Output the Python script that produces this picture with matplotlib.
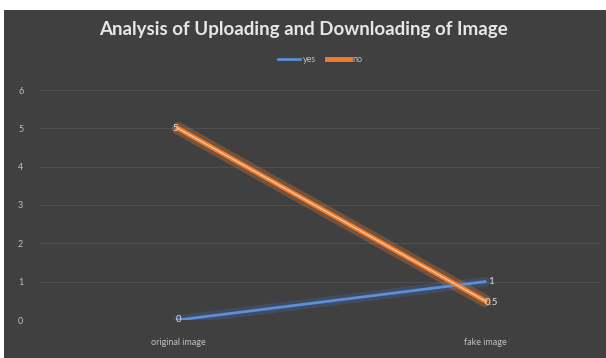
import matplotlib
matplotlib.use("Agg")
import matplotlib.pyplot as plt
from matplotlib.patches import Rectangle

categories = ["original image", "fake image"]
yes_vals = [0, 1]
no_vals = [5, 0.5]
yticks = [0, 1, 2, 3, 4, 5, 6]

plt.rcParams['font.family'] = ['Lato', 'DejaVu Sans']
fig = plt.figure(figsize=(6.06, 3.58), dpi=100)
fig.patch.set_facecolor('white')
fig.add_artist(Rectangle((4/606, 0), 1, 1 - 10/358, transform=fig.transFigure,
                         facecolor='#404040', edgecolor='none', zorder=0))

ax = fig.add_axes([40/606, 1 - 320/358, 560/606, (320 - 90)/358])
ax.set_facecolor('none')
x = list(range(len(categories)))
ax.set_xlim(-0.4495, 1.3745)
ax.set_ylim(0, 6)
ax.set_yticks(yticks)
ax.set_xticks(x)
ax.set_xticklabels(categories)
ax.tick_params(colors='#bfbfbf', labelsize=6.5, length=0)
ax.tick_params(axis='y', pad=12)
ax.tick_params(axis='x', pad=13)
ax.grid(axis='y', color='#525252', linewidth=0.6)
ax.set_axisbelow(True)
for s in ax.spines.values():
    s.set_visible(False)

# glow
ax.plot(x, yes_vals, color='#4472C4', linewidth=7, alpha=0.25, solid_capstyle='round')
ax.plot(x, no_vals, color='#ED7D31', linewidth=9, alpha=0.3, solid_capstyle='round')
ax.plot(x, yes_vals, color='#5B8FD6', linewidth=2, label='yes')
ax.plot(x, no_vals, color='#ED7D31', linewidth=3.5, label='no')
ax.plot(x, no_vals, color='#F8C9A0', linewidth=0.9)

txt = dict(color='#e0e0e0', fontsize=7)
ax.text(x[0], yes_vals[0], str(yes_vals[0]), ha='center', va='center', **txt)
ax.text(x[0] - 0.01, no_vals[0], str(no_vals[0]), ha='center', va='center', **txt)
ax.text(x[1] + 0.02, yes_vals[1], str(yes_vals[1]), ha='center', va='center', **txt)
ax.text(x[1] + 0.02, no_vals[1] - 0.05, str(no_vals[1]), ha='center', va='center', **txt)

fig.text(0.5, 1 - 30/358, "Analysis of Uploading and Downloading of Image",
         ha='center', va='center', color='#e6e6e6', fontsize=13.5, fontweight='bold')
leg = ax.legend(loc='center', bbox_to_anchor=(0.5, 1 + 30/230), ncol=2, frameon=False,
                fontsize=6.5, labelcolor='#bfbfbf', handlelength=2.5, columnspacing=1.2,
                handletextpad=0.3)
fig.savefig('out.png', dpi=100, facecolor=fig.get_facecolor())
